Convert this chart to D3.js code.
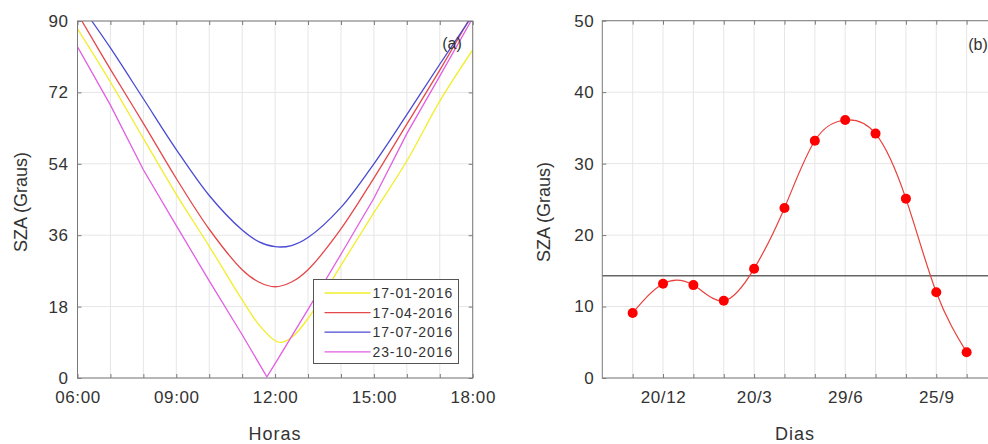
<!DOCTYPE html>
<html>
<head>
<meta charset="utf-8">
<script src="https://cdn.jsdelivr.net/npm/d3@7"></script>
<style>
  body { margin: 0; background: #fff; }
  svg { display: block; font-family: "Liberation Sans", Arial, sans-serif; }
  .tick line { stroke: #7a7a7a; }
  .tick text { fill: #333; }
</style>
</head>
<body>
<div id="wrapper"></div>
<script>
// (a) SZA ao longo do dia
const timesJan = ["06:00","07:00","08:00","09:00","10:00","11:00","11:30","12:00","12:11","12:30","13:00","14:00","15:00","16:00","17:00","18:00"];
const szaJan   = [88, 74.6, 60.4, 46.3, 33.2, 19.7, 13.5, 9.4, 9.0, 10.2, 15.0, 28.4, 41.7, 54.7, 69.8, 82.7];
const timesApr = ["06:08","07:00","08:00","09:00","10:00","11:00","11:30","12:00","12:30","13:00","14:00","15:00","16:00","17:00","17:52"];
const szaApr   = [90, 77.8, 64.2, 50.3, 37.5, 27.3, 24.2, 23.0, 24.2, 27.3, 37.6, 50.4, 64.0, 77.6, 90];
const timesJul = ["06:26","07:00","08:00","09:00","10:00","11:00","11:30","12:00","12:30","13:00","14:00","15:00","16:00","17:00","17:53"];
const szaJul   = [90, 83.2, 70.4, 57.6, 46.0, 37.3, 34.4, 33.1, 33.4, 35.4, 43.0, 54.0, 66.4, 79.1, 90];
const timesOct = ["06:00","07:00","08:00","09:00","10:00","11:00","11:45","12:00","13:00","14:00","15:00","16:00","17:00","17:57"];
const szaOct   = [83.5, 68.8, 52.5, 38.4, 24.5, 10.9, 0.3, 3.6, 17.3, 31.2, 45.3, 61.6, 76.1, 90];
const seriesNames = ["17-01-2016", "17-04-2016", "17-07-2016", "23-10-2016"];
const seriesColors = ["#f2ee2a", "#e5484a", "#4a4ad2", "#e25ee2"];
const yTicksA = [0, 18, 36, 54, 72, 90];

// (b) SZA ao meio-dia por data
const dayIndex = [1, 2, 3, 4, 5, 6, 7, 8, 9, 10, 11, 12];
const szaDays  = [9.1, 13.2, 13.0, 10.8, 15.3, 23.8, 33.2, 36.1, 34.2, 25.1, 12.0, 3.6];
const dayTickIndex  = [2, 5, 8, 11];
const dayTickLabels = ["20/12", "20/3", "29/6", "25/9"];
const refLineValue = 14.3;
const yTicksB = [0, 10, 20, 30, 40, 50];

const parseTime = d3.timeParse("%H:%M");
const formatTime = d3.timeFormat("%H:%M");

const dimensions = { width: 988, height: 444 };
const boxA = { left: 77.5, right: 472.7, top: 21, bottom: 378 };
const boxB = { left: 602.3, right: 997, top: 20.7, bottom: 378 };

const svg = d3.select("#wrapper")
  .append("svg")
    .attr("width", dimensions.width)
    .attr("height", dimensions.height);

svg.append("rect").attr("width", dimensions.width).attr("height", dimensions.height).attr("fill", "#fff");

const gridColor = "#e6e6e6";
const boxColor = "#7a7a7a";

// ---------- painel (a) ----------
const xA = d3.scaleTime()
  .domain([parseTime("06:00"), parseTime("18:00")])
  .range([boxA.left, boxA.right]);
const yA = d3.scaleLinear().domain([0, 90]).range([boxA.bottom, boxA.top]);
const hourTicks = d3.timeHour.range(parseTime("06:00"), parseTime("18:01"));

const gA = svg.append("g");
// grid
gA.selectAll(".vgrid").data(hourTicks).join("line")
  .attr("x1", d => xA(d)).attr("x2", d => xA(d))
  .attr("y1", boxA.top).attr("y2", boxA.bottom)
  .attr("stroke", gridColor);
gA.selectAll(".hgrid").data(yTicksA).join("line")
  .attr("x1", boxA.left).attr("x2", boxA.right)
  .attr("y1", d => yA(d)).attr("y2", d => yA(d))
  .attr("stroke", gridColor);

// curvas
svg.append("clipPath").attr("id", "clipA").append("rect")
  .attr("x", boxA.left).attr("y", boxA.top)
  .attr("width", boxA.right - boxA.left).attr("height", boxA.bottom - boxA.top);

const allTimes = [timesJan, timesApr, timesJul, timesOct];
const allSza = [szaJan, szaApr, szaJul, szaOct];
// a curva de outubro tem um "V" quase pontudo, por isso sem suavização
const curves = [d3.curveCatmullRom.alpha(0.5), d3.curveCatmullRom.alpha(0.5), d3.curveCatmullRom.alpha(0.5), d3.curveLinear];

allTimes.forEach((times, i) => {
  const lineA = d3.line()
    .x(d => xA(parseTime(d[0])))
    .y(d => yA(d[1]))
    .curve(curves[i]);
  gA.append("path")
    .attr("d", lineA(d3.zip(times, allSza[i])))
    .attr("fill", "none")
    .attr("stroke", seriesColors[i])
    .attr("stroke-width", 1.3)
    .attr("clip-path", "url(#clipA)");
});

// eixos
gA.append("g")
  .attr("transform", `translate(0,${boxA.bottom})`)
  .call(d3.axisBottom(xA).tickValues(hourTicks).tickSizeInner(-4).tickSizeOuter(0).tickPadding(13)
    .tickFormat(d => d.getHours() % 3 === 0 ? formatTime(d) : ""));
gA.append("g")
  .attr("transform", `translate(0,${boxA.top})`)
  .call(d3.axisTop(xA).tickValues(hourTicks).tickSizeInner(-4).tickSizeOuter(0).tickFormat(""));
gA.append("g")
  .attr("transform", `translate(${boxA.left},0)`)
  .call(d3.axisLeft(yA).tickValues(yTicksA).tickSizeInner(-4).tickSizeOuter(0).tickPadding(9));
gA.append("g")
  .attr("transform", `translate(${boxA.right},0)`)
  .call(d3.axisRight(yA).tickValues(yTicksA).tickSizeInner(-4).tickSizeOuter(0).tickFormat(""));

gA.append("rect")
  .attr("x", boxA.left).attr("y", boxA.top)
  .attr("width", boxA.right - boxA.left).attr("height", boxA.bottom - boxA.top)
  .attr("fill", "none").attr("stroke", boxColor);

// legenda
const legend = gA.append("g").attr("transform", "translate(313.5,279.5)");
legend.append("rect").attr("width", 145).attr("height", 84)
  .attr("fill", "#fff").attr("stroke", "#555");
seriesNames.forEach((name, i) => {
  const y = 13.5 + i * 19.6;
  legend.append("line").attr("x1", 11).attr("x2", 57).attr("y1", y).attr("y2", y)
    .attr("stroke", seriesColors[i]).attr("stroke-width", 1.3);
  legend.append("text").attr("x", 59).attr("y", y + 5)
    .attr("fill", "#333").style("font-size", "14px").style("letter-spacing", "0.9px")
    .text(name);
});

gA.append("text").attr("x", 452).attr("y", 49).attr("text-anchor", "middle")
  .attr("fill", "#333").style("font-size", "16px").text("(a)");
gA.append("text").attr("x", 275).attr("y", 440).attr("text-anchor", "middle")
  .attr("fill", "#333").style("font-size", "18px").style("letter-spacing", "1px").text("Horas");
gA.append("text").attr("transform", "translate(27,202) rotate(-90)").attr("text-anchor", "middle")
  .attr("fill", "#333").style("font-size", "18px").text("SZA (Graus)");

// ---------- painel (b) ----------
const xB = d3.scaleLinear().domain([0, 13]).range([boxB.left, boxB.right]);
const yB = d3.scaleLinear().domain([0, 50]).range([boxB.bottom, boxB.top]);

const gB = svg.append("g");
gB.selectAll(".vgrid").data(dayIndex).join("line")
  .attr("x1", d => xB(d)).attr("x2", d => xB(d))
  .attr("y1", boxB.top).attr("y2", boxB.bottom)
  .attr("stroke", gridColor);
gB.selectAll(".hgrid").data(yTicksB).join("line")
  .attr("x1", boxB.left).attr("x2", boxB.right)
  .attr("y1", d => yB(d)).attr("y2", d => yB(d))
  .attr("stroke", gridColor);

gB.append("line")
  .attr("x1", boxB.left).attr("x2", boxB.right)
  .attr("y1", yB(refLineValue)).attr("y2", yB(refLineValue))
  .attr("stroke", "#666").attr("stroke-width", 1.5);

const lineB = d3.line()
  .x((d, i) => xB(dayIndex[i]))
  .y(d => yB(d))
  .curve(d3.curveNatural);
gB.append("path")
  .attr("d", lineB(szaDays))
  .attr("fill", "none").attr("stroke", "#e8403c").attr("stroke-width", 1.2);

gB.selectAll("circle").data(szaDays).join("circle")
  .attr("cx", (d, i) => xB(dayIndex[i]))
  .attr("cy", d => yB(d))
  .attr("r", 5)
  .attr("fill", "#f00");

gB.append("g")
  .attr("transform", `translate(0,${boxB.bottom})`)
  .call(d3.axisBottom(xB).tickValues(dayIndex).tickSizeInner(-4).tickSizeOuter(0).tickPadding(13)
    .tickFormat(d => {
      const k = dayTickIndex.indexOf(d);
      return k >= 0 ? dayTickLabels[k] : "";
    }));
gB.append("g")
  .attr("transform", `translate(0,${boxB.top})`)
  .call(d3.axisTop(xB).tickValues(dayIndex).tickSizeInner(-4).tickSizeOuter(0).tickFormat(""));
gB.append("g")
  .attr("transform", `translate(${boxB.left},0)`)
  .call(d3.axisLeft(yB).tickValues(yTicksB).tickSizeInner(-4).tickSizeOuter(0).tickPadding(8));

gB.append("rect")
  .attr("x", boxB.left).attr("y", boxB.top)
  .attr("width", boxB.right - boxB.left).attr("height", boxB.bottom - boxB.top)
  .attr("fill", "none").attr("stroke", boxColor);

gB.append("text").attr("x", 978).attr("y", 50).attr("text-anchor", "middle")
  .attr("fill", "#333").style("font-size", "16px").text("(b)");
gB.append("text").attr("x", 795).attr("y", 440).attr("text-anchor", "middle")
  .attr("fill", "#333").style("font-size", "18px").style("letter-spacing", "1px").text("Dias");
gB.append("text").attr("transform", "translate(550,212) rotate(-90)").attr("text-anchor", "middle")
  .attr("fill", "#333").style("font-size", "18px").text("SZA (Graus)");

// remove as linhas de domínio, a caixa já desenha o contorno
svg.selectAll(".domain").remove();
svg.selectAll(".tick text").style("font-size", "17px").style("letter-spacing", "0.6px");
</script>
</body>
</html>
